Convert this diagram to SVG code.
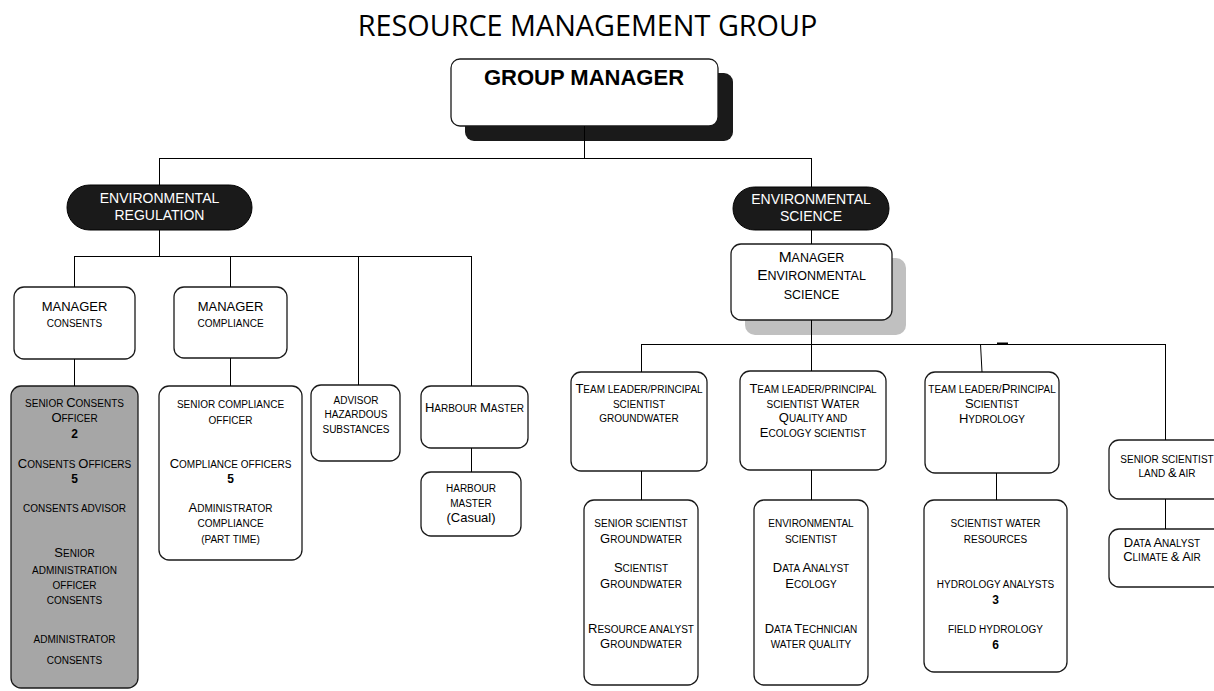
<svg xmlns="http://www.w3.org/2000/svg" width="1214" height="691" viewBox="0 0 1214 691">
<style>
.t{font-family:"Liberation Sans",Arial,sans-serif;font-size:10px;fill:#000;text-anchor:middle}
.b{font-size:13px}
.n{font-size:12px;font-weight:bold}
.m{font-size:13px}
.w{fill:#fff;font-size:14px}
.box{fill:#fff;stroke:#1a1a1a;stroke-width:1.3}
.gray{fill:#a6a6a6;stroke:#1a1a1a;stroke-width:1.3}
.pill{fill:#1a1a1a;stroke:#000;stroke-width:1}
.ln{stroke:#000;stroke-width:1;fill:none}
.es{font-size:12.5px}
.eb{font-size:15.5px}
</style>
<rect width="1214" height="691" fill="#fff"/>
<text x="587.5" y="36" style="font-family:'Open Sans','Liberation Sans',sans-serif;font-size:28.8px;fill:#000;text-anchor:middle">RESOURCE MANAGEMENT GROUP</text>

<g id="group-manager">
<rect x="465" y="73" width="268" height="68" rx="9" fill="#1a1a1a"/>
<rect x="451" y="59" width="267" height="67" rx="9" class="box"/>
<text x="584" y="85" class="t" style="font-size:22px;font-weight:bold">GROUP MANAGER</text>
</g>

<g id="env-regulation">
<rect x="67" y="185" width="185" height="45" rx="22.5" class="pill"/>
<text x="159.5" y="203" class="t w">ENVIRONMENTAL</text>
<text x="159.5" y="220" class="t w">REGULATION</text>
</g>

<g id="manager-consents">
<rect x="14" y="287" width="121" height="72" rx="10" class="box"/>
<text x="74.5" y="311" class="t m">MANAGER</text>
<text x="74.5" y="327" class="t">CONSENTS</text>
</g>

<g id="manager-compliance">
<rect x="174" y="287" width="113" height="71" rx="10" class="box"/>
<text x="230.5" y="311" class="t m">MANAGER</text>
<text x="230.5" y="327" class="t">COMPLIANCE</text>
</g>

<g id="consents-staff">
<rect x="11" y="386" width="127" height="302" rx="10" class="gray"/>
<text x="74.5" y="407" class="t">SENIOR <tspan class="b">C</tspan>ONSENTS</text>
<text x="74.5" y="422" class="t"><tspan class="b">O</tspan>FFICER</text>
<text x="74.5" y="438" class="t n">2</text>
<text x="74.5" y="468" class="t"><tspan class="b">C</tspan>ONSENTS <tspan class="b">O</tspan>FFICERS</text>
<text x="74.5" y="483" class="t n">5</text>
<text x="74.5" y="512" class="t">CONSENTS ADVISOR</text>
<text x="74.5" y="557" class="t"><tspan class="b">S</tspan>ENIOR</text>
<text x="74.5" y="574" class="t">ADMINISTRATION</text>
<text x="74.5" y="589" class="t">OFFICER</text>
<text x="74.5" y="604" class="t">CONSENTS</text>
<text x="74.5" y="643" class="t">ADMINISTRATOR</text>
<text x="74.5" y="664" class="t">CONSENTS</text>
</g>

<g id="compliance-staff">
<rect x="159" y="386" width="143" height="174" rx="10" class="box"/>
<text x="230.5" y="408" class="t">SENIOR COMPLIANCE</text>
<text x="230.5" y="424" class="t">OFFICER</text>
<text x="230.5" y="468" class="t"><tspan class="b">C</tspan>OMPLIANCE OFFICERS</text>
<text x="230.5" y="483" class="t n">5</text>
<text x="230.5" y="512" class="t"><tspan class="b">A</tspan>DMINISTRATOR</text>
<text x="230.5" y="527" class="t">COMPLIANCE</text>
<text x="230.5" y="543" class="t">(PART TIME)</text>
</g>

<g id="advisor-hazardous">
<rect x="311" y="385" width="89" height="76" rx="10" class="box"/>
<text x="356" y="404" class="t">ADVISOR</text>
<text x="356" y="418" class="t">HAZARDOUS</text>
<text x="356" y="433" class="t">SUBSTANCES</text>
</g>

<g id="harbour-master">
<rect x="421" y="386" width="107" height="62" rx="10" class="box"/>
<text x="474.5" y="412" class="t"><tspan class="b">H</tspan>ARBOUR <tspan class="b">M</tspan>ASTER</text>
</g>

<g id="harbour-master-casual">
<rect x="421" y="472" width="100" height="64" rx="10" class="box"/>
<text x="471" y="492" class="t">HARBOUR</text>
<text x="471" y="507" class="t">MASTER</text>
<text x="471" y="522" class="t m">(Casual)</text>
</g>

<g id="env-science">
<rect x="733" y="187" width="156" height="43" rx="21.5" class="pill"/>
<text x="811" y="204" class="t w">ENVIRONMENTAL</text>
<text x="811" y="221" class="t w">SCIENCE</text>
</g>

<g id="manager-env-science">
<rect x="745" y="258" width="161" height="77" rx="10" fill="#c0c0c0"/>
<rect x="731" y="244" width="161" height="76" rx="10" class="box"/>
<text x="811.5" y="262" class="t es"><tspan class="eb">M</tspan>ANAGER</text>
<text x="811.5" y="280" class="t es"><tspan class="eb">E</tspan>NVIRONMENTAL</text>
<text x="811.5" y="299" class="t es">SCIENCE</text>
</g>

<g id="tl-groundwater">
<rect x="571" y="372" width="136" height="99" rx="10" class="box"/>
<text x="639" y="393" class="t"><tspan class="b">T</tspan>EAM LEADER/PRINCIPAL</text>
<text x="639" y="408" class="t">SCIENTIST</text>
<text x="639" y="422" class="t">GROUNDWATER</text>
</g>

<g id="tl-water-quality">
<rect x="740" y="371" width="146" height="99" rx="10" class="box"/>
<text x="813" y="393" class="t"><tspan class="b">T</tspan>EAM LEADER/PRINCIPAL</text>
<text x="813" y="408" class="t">SCIENTIST <tspan class="b">W</tspan>ATER</text>
<text x="813" y="422" class="t"><tspan class="b">Q</tspan>UALITY AND</text>
<text x="813" y="437" class="t"><tspan class="b">E</tspan>COLOGY SCIENTIST</text>
</g>

<g id="tl-hydrology">
<rect x="925" y="372" width="134" height="101" rx="10" class="box"/>
<text x="992" y="393" class="t">TEAM LEADER/<tspan class="b">P</tspan>RINCIPAL</text>
<text x="992" y="408" class="t"><tspan class="b">S</tspan>CIENTIST</text>
<text x="992" y="423" class="t"><tspan class="b">H</tspan>YDROLOGY</text>
</g>

<g id="senior-scientist-land-air">
<rect x="1109" y="440" width="120" height="59" rx="10" class="box"/>
<text x="1167" y="463" class="t">SENIOR SCIENTIST</text>
<text x="1167" y="477" class="t">LAND <tspan class="b">&amp;</tspan> AIR</text>
</g>

<g id="data-analyst-climate">
<rect x="1109" y="529" width="120" height="58" rx="10" class="box"/>
<text x="1162" y="547" class="t"><tspan class="b">D</tspan>ATA <tspan class="b">A</tspan>NALYST</text>
<text x="1162" y="561" class="t"><tspan class="b">C</tspan>LIMATE <tspan class="b">&amp;</tspan> <tspan class="b">A</tspan>IR</text>
</g>

<g id="groundwater-staff">
<rect x="584" y="500" width="114" height="185" rx="10" class="box"/>
<text x="641" y="527" class="t">SENIOR SCIENTIST</text>
<text x="641" y="543" class="t"><tspan class="b">G</tspan>ROUNDWATER</text>
<text x="641" y="572" class="t"><tspan class="b">S</tspan>CIENTIST</text>
<text x="641" y="588" class="t"><tspan class="b">G</tspan>ROUNDWATER</text>
<text x="641" y="633" class="t"><tspan class="b">R</tspan>ESOURCE ANALYST</text>
<text x="641" y="648" class="t"><tspan class="b">G</tspan>ROUNDWATER</text>
</g>

<g id="water-quality-staff">
<rect x="754" y="500" width="114" height="185" rx="10" class="box"/>
<text x="811" y="527" class="t">ENVIRONMENTAL</text>
<text x="811" y="543" class="t">SCIENTIST</text>
<text x="811" y="572" class="t"><tspan class="b">D</tspan>ATA <tspan class="b">A</tspan>NALYST</text>
<text x="811" y="588" class="t"><tspan class="b">E</tspan>COLOGY</text>
<text x="811" y="633" class="t"><tspan class="b">D</tspan>ATA <tspan class="b">T</tspan>ECHNICIAN</text>
<text x="811" y="648" class="t">WATER QUALITY</text>
</g>

<g id="hydrology-staff">
<rect x="924" y="500" width="143" height="172" rx="10" class="box"/>
<text x="995.5" y="527" class="t">SCIENTIST WATER</text>
<text x="995.5" y="543" class="t">RESOURCES</text>
<text x="995.5" y="588" class="t">HYDROLOGY ANALYSTS</text>
<text x="995.5" y="604" class="t n">3</text>
<text x="995.5" y="633" class="t">FIELD HYDROLOGY</text>
<text x="995.5" y="649" class="t n">6</text>
</g>

<g id="connectors" class="ln">
<path d="M584.5,126 V158.5 M159.5,158.5 H811.5 M159.5,158 V185 M811.5,158 V187"/>
<path d="M159.5,230 V256.5 M74.5,256.5 H471.5 M74.5,256 V287 M230.5,256 V287 M358.5,256 V385 M471.5,256 V386"/>
<path d="M74.5,359 V386 M230.5,358 V386 M471.5,448 V472"/>
<path d="M811.5,230 V244 M811.5,320 V344.5 M641.5,344.5 H1165.5 M641.5,344 V372 M811.5,344 V371 M980.5,344 L982,372 M1165.5,344 V440"/>
<path d="M641.5,471 V500 M811.5,470 V500 M996.5,473 V500 M1165.5,499 V529"/>
<path d="M997,343.5 H1008" stroke-width="2"/>
</g>
</svg>
